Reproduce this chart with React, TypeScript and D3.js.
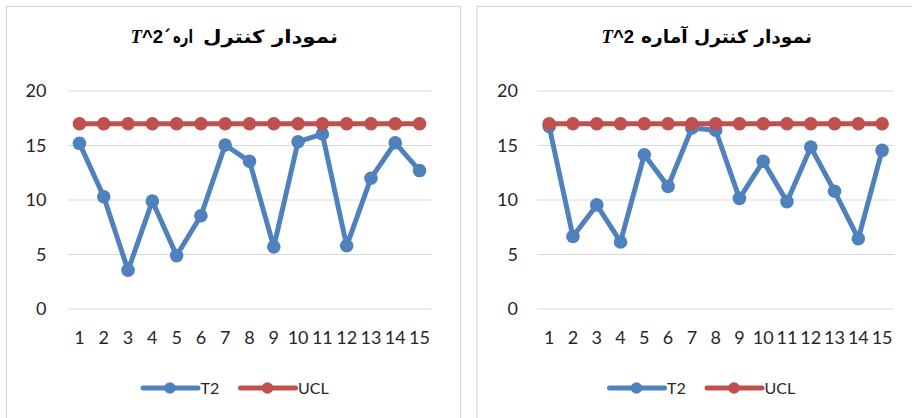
import React from 'react';
import * as d3 from 'd3';

const categories = ['1', '2', '3', '4', '5', '6', '7', '8', '9', '10', '11', '12', '13', '14', '15'];
const leftT2 = [15.2, 10.3, 3.55, 9.9, 4.9, 8.55, 15.05, 13.55, 5.7, 15.35, 16.05, 5.8, 12.0, 15.25, 12.7];
const leftUCL = [17, 17, 17, 17, 17, 17, 17, 17, 17, 17, 17, 17, 17, 17, 17];
const rightT2 = [16.75, 6.65, 9.55, 6.15, 14.15, 11.25, 16.6, 16.4, 10.15, 13.55, 9.85, 14.85, 10.8, 6.45, 14.55];
const rightUCL = [17, 17, 17, 17, 17, 17, 17, 17, 17, 17, 17, 17, 17, 17, 17];
const yTicks = [0, 5, 10, 15, 20];
const seriesNames = ['T2', 'UCL'];

const BLUE = '#4f81bd';
const RED = '#c0504d';
const GRID = '#d9d9d9';
const FONT = 'Lato, "Open Sans", sans-serif';

type PanelProps = {
  plotX0: number;
  plotX1: number;
  labelX: number;
  t2: number[];
  ucl: number[];
  legendX: number;
  title: React.ReactNode;
};

function Panel({ plotX0, plotX1, labelX, t2, ucl, legendX, title }: PanelProps) {
  const x = d3.scaleBand<string>().domain(categories).range([plotX0, plotX1]).padding(0);
  const y = d3.scaleLinear().domain([0, 20]).range([309, 91]);
  const cx = (c: string) => (x(c) as number) + x.bandwidth() / 2;
  const line = d3
    .line<number>()
    .x((_, i) => cx(categories[i]))
    .y((d) => y(d));

  const series = [
    { name: seriesNames[0], data: t2, color: BLUE },
    { name: seriesNames[1], data: ucl, color: RED },
  ];

  return (
    <g>
      {yTicks.map((t) => (
        <g key={t}>
          <line x1={plotX0} x2={plotX1} y1={y(t)} y2={y(t)} stroke={GRID} strokeWidth={1} />
          <text x={labelX} y={y(t)} dy="0.35em" textAnchor="end" fontSize={18} fontFamily={FONT} fill="#262626">
            {t}
          </text>
        </g>
      ))}
      {categories.map((c) => (
        <text key={c} x={cx(c)} y={344} textAnchor="middle" fontSize={18} fontFamily={FONT} fill="#262626">
          {c}
        </text>
      ))}
      {series.map((s) => (
        <g key={s.name}>
          <path d={line(s.data) || ''} fill="none" stroke={s.color} strokeWidth={5} strokeLinejoin="round" strokeLinecap="round" />
          {s.data.map((d, i) => (
            <circle key={i} cx={cx(categories[i])} cy={y(d)} r={6.8} fill={s.color} />
          ))}
        </g>
      ))}
      {series.map((s, i) => {
        const lx = legendX + i * 97.5;
        return (
          <g key={'lg' + s.name}>
            <line x1={lx} x2={lx + 55} y1={388} y2={388} stroke={s.color} strokeWidth={5} strokeLinecap="round" />
            <circle cx={lx + 27} cy={388} r={5.8} fill={s.color} />
            <text x={lx + 57.5} y={388} dy="0.35em" fontSize={16} fontFamily={FONT} fill="#262626">
              {s.name}
            </text>
          </g>
        );
      })}
      {title}
    </g>
  );
}

const T2Label = ({ x }: { x: number }) => (
  <text x={x} y={43} textAnchor="end" fontSize={18.5} fontWeight="bold" fill="#000">
    <tspan fontFamily='"Liberation Serif", serif' fontStyle="italic">T</tspan>
    <tspan fontFamily='"Liberation Sans", sans-serif'>^2</tspan>
  </text>
);

export default function App() {
  const persian = { fontFamily: '"DejaVu Sans", sans-serif', fontWeight: 'bold' as const, fontSize: 18, lengthAdjust: 'spacingAndGlyphs' };
  return (
    <svg width={912} height={418} style={{ position: 'absolute', left: 0, top: 0, background: '#fff' }}>
      <rect x={6.5} y={6.5} width={454} height={430} fill="none" stroke={GRID} strokeWidth={1.2} />
      <rect x={477} y={6.5} width={450} height={430} fill="none" stroke={GRID} strokeWidth={1.2} />
      <Panel
        plotX0={67.3}
        plotX1={431.7}
        labelX={46.5}
        t2={leftT2}
        ucl={leftUCL}
        legendX={143}
        title={
          <g>
            <text x={203} y={43} textLength={135} {...persian}>نمودار کنترل</text>
            <text x={173} y={43} textLength={20} {...persian}>اره</text>
            <text x={171} y={43} textAnchor="end" {...persian}>´</text>
            <T2Label x={163} />
          </g>
        }
      />
      <Panel
        plotX0={537.3}
        plotX1={894}
        labelX={518}
        t2={rightT2}
        ucl={rightUCL}
        legendX={609.5}
        title={
          <g>
            <text x={641} y={43} textLength={171} {...persian}>نمودار کنترل آماره</text>
            <T2Label x={634} />
          </g>
        }
      />
    </svg>
  );
}
